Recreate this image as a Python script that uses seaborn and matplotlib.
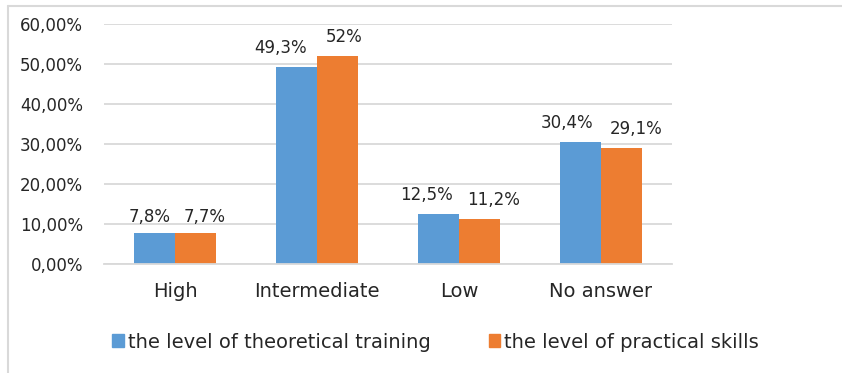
import matplotlib
matplotlib.use("Agg")
import matplotlib.pyplot as plt
from matplotlib.ticker import FuncFormatter, FixedLocator
from matplotlib.lines import Line2D
import seaborn as sns
import pandas as pd

categories = ["High", "Intermediate", "Low", "No answer"]
series_names = ["the level of theoretical training", "the level of practical skills"]
theoretical = [7.8, 49.3, 12.5, 30.4]
practical = [7.7, 52.0, 11.2, 29.1]
y_ticks = [0, 10, 20, 30, 40, 50, 60]

colors = ["#5B9BD5", "#ED7D31"]
grid_color = "#D9D9D9"
text_color = "#262626"

# value-label nudges (pixels) so neighbouring labels don't collide
label_dx = [[-5, -16, -12, -13], [9, 7, 14, 15]]
label_dy = [11, 14, 14, 14]

sns.set_theme(style="white")
plt.rcParams["font.family"] = ["DejaVu Sans"]

df = pd.DataFrame({
    "category": categories * 2,
    "series": [series_names[0]] * 4 + [series_names[1]] * 4,
    "value": theoretical + practical,
})

W, H = 842, 373
fig = plt.figure(figsize=(W / 100, H / 100), dpi=100)
fig.patch.set_facecolor("white")

# chart-area frame (top and left edges)
fig.add_artist(Line2D([8 / W, 1], [1 - 6 / H, 1 - 6 / H], color=grid_color, lw=1.5,
                      transform=fig.transFigure))
fig.add_artist(Line2D([8 / W, 8 / W], [0, 1 - 6 / H], color=grid_color, lw=1.5,
                      transform=fig.transFigure))

left, right, top, bottom = 104, 672, 24, 264
ax = fig.add_axes([left / W, 1 - bottom / H, (right - left) / W, (bottom - top) / H])

sns.barplot(data=df, x="category", y="value", hue="series", order=categories,
            hue_order=series_names, palette=colors, width=0.58, gap=0,
            linewidth=0, saturation=1, ax=ax, legend=False)

ax.set_ylim(0, 60)
ax.set_xlim(-0.5, len(categories) - 0.5)
ax.yaxis.set_major_locator(FixedLocator(y_ticks))
ax.yaxis.set_major_formatter(FuncFormatter(lambda v, p: f"{v:.2f}".replace(".", ",") + "%"))
ax.grid(axis="y", color=grid_color, lw=1.3)
ax.set_axisbelow(True)
for s in ["top", "right", "left"]:
    ax.spines[s].set_visible(False)
ax.spines["bottom"].set_color(grid_color)
ax.spines["bottom"].set_linewidth(1.3)

ax.set_xlabel("")
ax.set_ylabel("")
ax.tick_params(axis="y", length=0, pad=15, labelsize=12, labelcolor=text_color)
ax.tick_params(axis="x", which="major", length=0, pad=13, labelsize=14, labelcolor=text_color)
ax.set_xticks([i - 0.5 for i in range(len(categories) + 1)], minor=True)
ax.tick_params(axis="x", which="minor", length=6, width=1.3, color=grid_color, direction="out")

# value labels above bars
for si, (container, vals) in enumerate(zip(ax.containers, [theoretical, practical])):
    for ci, (bar, v) in enumerate(zip(container, vals)):
        label = f"{v:g}".replace(".", ",") + "%"
        ax.annotate(label, xy=(bar.get_x() + bar.get_width() / 2, bar.get_height()),
                    xytext=(label_dx[si][ci], label_dy[ci]), textcoords="offset pixels",
                    ha="center", va="baseline", fontsize=12, color=text_color)

handles = [plt.Rectangle((0, 0), 1, 1, color=c) for c in colors]
fig.legend(handles, series_names, loc="center left", bbox_to_anchor=(112 / W, 1 - 342 / H),
           ncol=2, frameon=False, fontsize=14, handlelength=0.6, handleheight=0.6,
           handletextpad=0.2, columnspacing=3.0, borderpad=0, borderaxespad=0,
           labelcolor=text_color)

fig.savefig("out.png", dpi=100)
